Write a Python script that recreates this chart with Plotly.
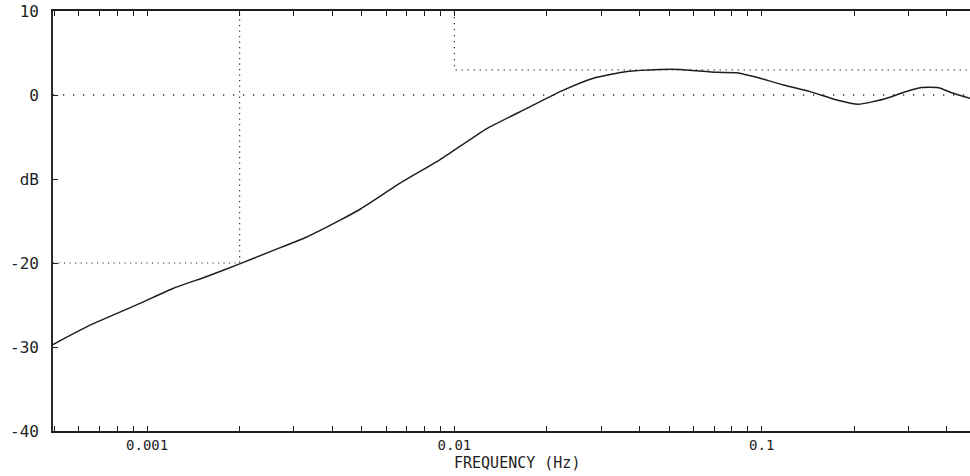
import math
import plotly.graph_objects as go

# Measured magnitude response of the filter
freq_hz = [0.000494, 0.000652, 0.000949, 0.001218, 0.001564, 0.002, 0.002576,
           0.003309, 0.004246, 0.004932, 0.006655, 0.00898, 0.01275, 0.0172,
           0.02207, 0.02832, 0.03638, 0.04667, 0.0542, 0.0714, 0.0829, 0.09874,
           0.1176, 0.1436, 0.1754, 0.2062, 0.2487, 0.2889, 0.3273, 0.3755,
           0.4202, 0.4761]
gain_db = [-29.7, -27.4, -24.8, -23.0, -21.6, -20.1, -18.5,
           -16.9, -14.9, -13.6, -10.5, -7.7, -4.0, -1.6,
           0.4, 2.0, 2.8, 3.05, 3.05, 2.7, 2.65, 2.0,
           1.2, 0.4, -0.6, -1.1, -0.5, 0.3, 0.87, 0.87,
           0.2, -0.4]

# Specification template (lower stop-band corner and upper pass-band limit)
low_mask_f = [0.000494, 0.002, 0.002]
low_mask_db = [-20, -20, 10]
high_mask_f = [0.01, 0.01, 0.4761]
high_mask_db = [10, 3, 3]
zero_ref_f = [0.000494, 0.4761]
zero_ref_db = [0, 0]

# Axis ticks
y_tick_vals = [10, 0, -10, -20, -30, -40]
y_tick_text = ["10", "0", "dB", "-20", "-30", "-40"]
x_decade_labels = {0.001: "0.001", 0.01: "0.01", 0.1: "0.1"}

x_tick_vals = []
x_tick_text = []
for e in range(-4, 0):
    for m in range(1, 10):
        v = round(m * 10 ** e, 6)
        if 0.000494 <= v <= 0.4761:
            x_tick_vals.append(v)
            x_tick_text.append(x_decade_labels.get(v, ""))

ink = "#1e1e1e"
font_family = "DejaVu Sans Mono"

fig = go.Figure()

fig.add_trace(go.Scatter(
    x=zero_ref_f, y=zero_ref_db, mode="lines",
    line=dict(color="#333333", width=1.3, dash="1.3px,8.7px"),
    hoverinfo="skip"))
fig.add_trace(go.Scatter(
    x=low_mask_f, y=low_mask_db, mode="lines",
    line=dict(color="#333333", width=1.2, dash="1.2px,4.3px"),
    hoverinfo="skip"))
fig.add_trace(go.Scatter(
    x=high_mask_f, y=high_mask_db, mode="lines",
    line=dict(color="#333333", width=1.2, dash="1.2px,4.8px"),
    hoverinfo="skip"))
fig.add_trace(go.Scatter(
    x=freq_hz, y=gain_db, mode="lines",
    line=dict(color=ink, width=1.5, shape="spline", smoothing=0.5),
    hoverinfo="skip"))

fig.update_layout(
    width=970, height=476,
    margin=dict(l=53, r=0, t=11, b=45),
    paper_bgcolor="white", plot_bgcolor="white",
    showlegend=False,
    font=dict(family=font_family, size=15, color=ink),
)

fig.update_xaxes(
    type="log",
    range=[math.log10(0.000494), math.log10(0.4761)],
    tickvals=x_tick_vals, ticktext=x_tick_text,
    ticks="inside", ticklen=5, tickwidth=1.3, tickcolor=ink,
    showline=True, linecolor=ink, linewidth=1.8, mirror="ticks",
    showgrid=False, zeroline=False,
    ticklabelstandoff=0,
    tickfont=dict(family=font_family, size=14, color=ink),
)
fig.update_yaxes(
    range=[-40, 10],
    tickvals=y_tick_vals, ticktext=y_tick_text,
    ticks="inside", ticklen=5, tickwidth=1.3, tickcolor=ink,
    showline=True, linecolor="#2a2a2a", linewidth=1.6, mirror=False,
    showgrid=False, zeroline=False,
    ticklabelstandoff=9,
    tickfont=dict(family=font_family, size=16, color=ink),
)

fig.add_annotation(
    text="FREQUENCY (Hz)", xref="paper", yref="paper",
    x=(517 - 53) / 917, y=-0.076, xanchor="center", yanchor="middle",
    showarrow=False, font=dict(family=font_family, size=15, color=ink))

fig.write_html("out.html")
